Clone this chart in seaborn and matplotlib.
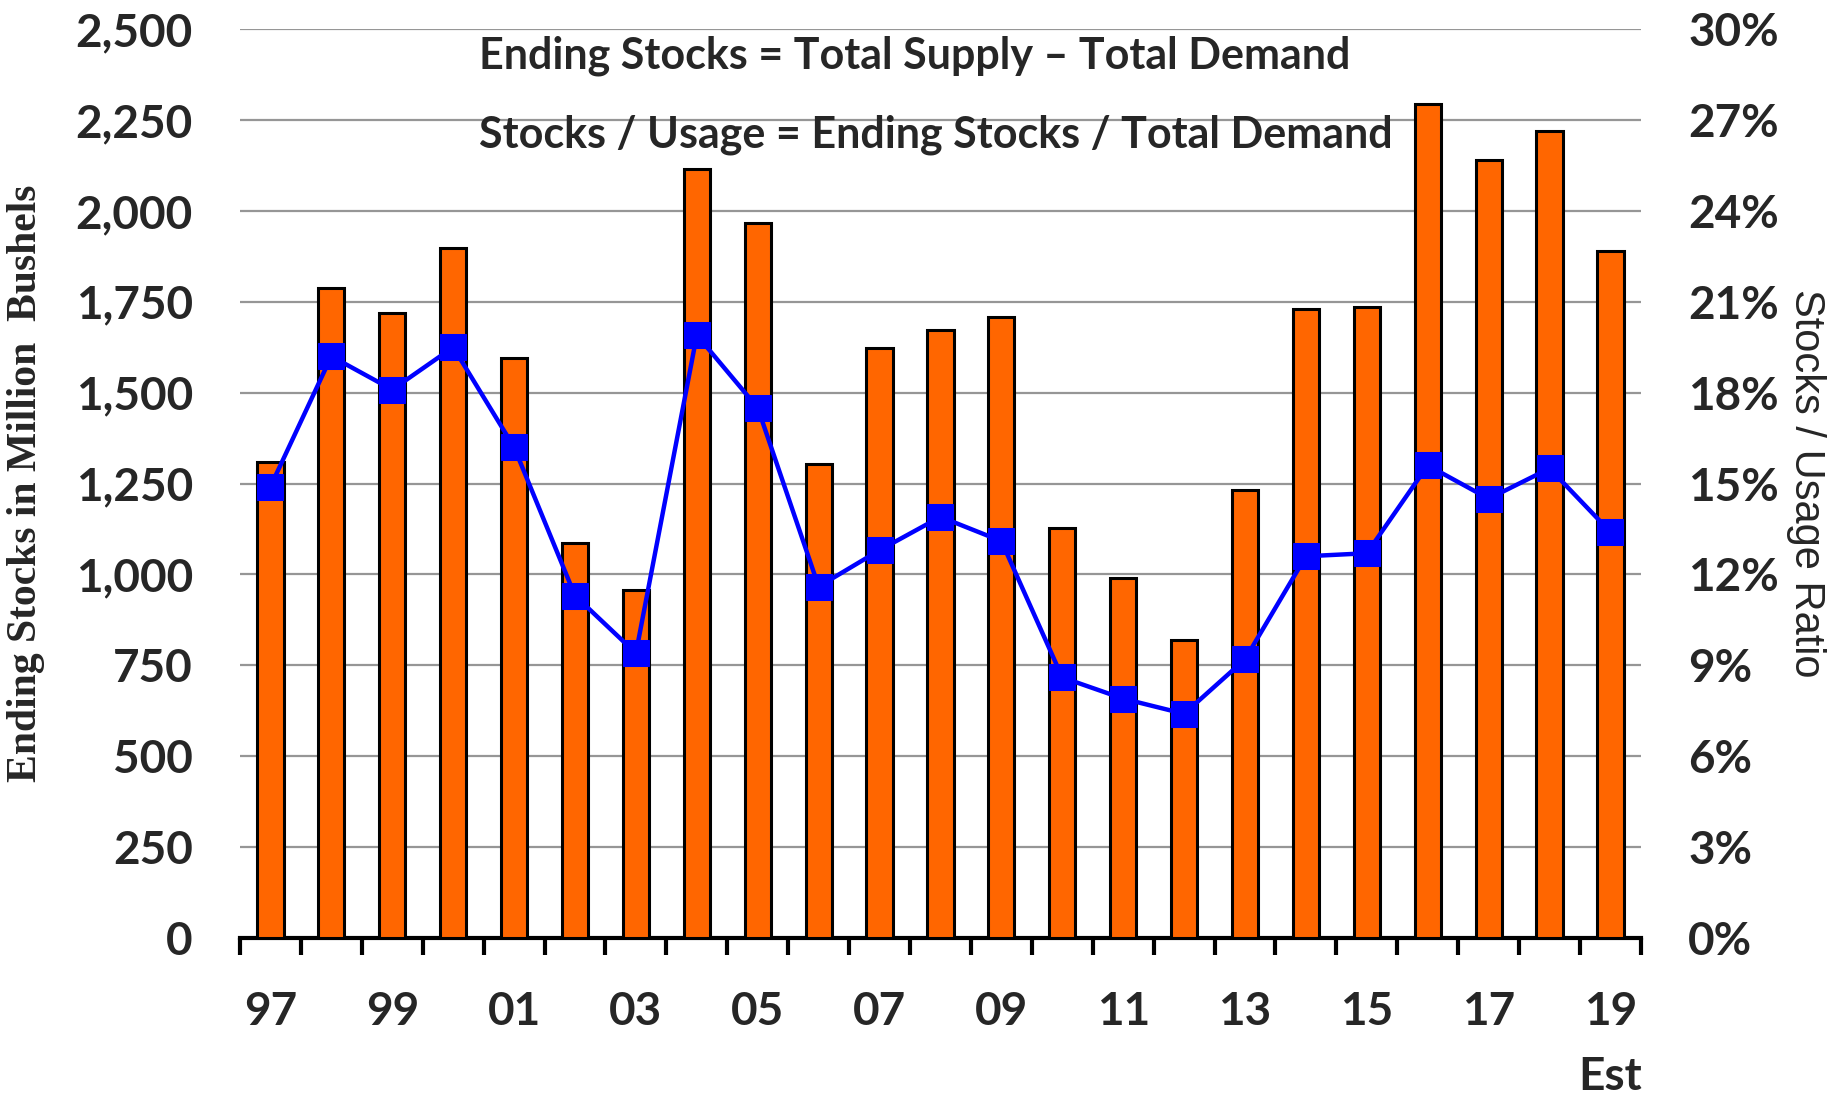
import numpy as np
import pandas as pd
import seaborn as sns
import matplotlib.pyplot as plt
from matplotlib.ticker import FuncFormatter, FixedLocator

# Data
years = ['97', '98', '99', '00', '01', '02', '03', '04', '05', '06', '07', '08',
         '09', '10', '11', '12', '13', '14', '15', '16', '17', '18', '19']
ending_stocks = [1308, 1787, 1718, 1899, 1596, 1087, 958, 2114, 1967, 1304, 1624, 1673,
                 1708, 1128, 989, 821, 1232, 1731, 1737, 2293, 2140, 2221, 1890]
stocks_usage = [14.9, 19.2, 18.1, 19.5, 16.2, 11.3, 9.4, 19.9, 17.5, 11.6, 12.8, 13.9,
                13.1, 8.6, 7.9, 7.4, 9.2, 12.6, 12.7, 15.6, 14.5, 15.5, 13.4]
tick_labels = [y if i % 2 == 0 else '' for i, y in enumerate(years)]

df = pd.DataFrame({'year': years, 'stocks': ending_stocks, 'ratio': stocks_usage})
df['pos'] = np.arange(len(df))

sns.set_style('white')
plt.rcParams['font.family'] = ['Lato', 'DejaVu Sans']

fig = plt.figure(figsize=(18.39, 10.99), dpi=100)
ax = fig.add_axes([0.1305, 0.1465, 0.7618, 0.827])

sns.barplot(data=df, x='year', y='stocks', color='#FF6600', width=0.43,
            edgecolor='black', linewidth=2.2, saturation=1, ax=ax, zorder=3)
ax.set_ylim(0, 2500)
ax.set_xlim(-0.5, len(years) - 0.5)
ax.set_yticks(np.arange(0, 2501, 250))
ax.yaxis.set_major_formatter(FuncFormatter(lambda v, p: f'{int(v):,}'))
ax.grid(axis='y', color='#969696', linewidth=1.6, zorder=0)
ax.set_axisbelow(True)
for s in ['top', 'left', 'right']:
    ax.spines[s].set_visible(False)
ax.spines['bottom'].set_linewidth(3)
ax.spines['bottom'].set_color('black')

ax.set_xticks(np.arange(len(years)))
ax.set_xticklabels(tick_labels)
ax.xaxis.set_minor_locator(FixedLocator(np.arange(-0.5, len(years), 1)))
ax.tick_params(axis='x', which='major', length=0, pad=38)
ax.tick_params(axis='x', which='minor', length=12, width=3, color='black', direction='out', bottom=True)
ax.tick_params(axis='y', length=0, pad=34)
for lab in ax.get_xticklabels() + ax.get_yticklabels():
    lab.set_fontsize(33)
    lab.set_fontweight('bold')
ax.set_xlabel('')
ax.set_ylabel('Ending Stocks in Million  Bushels', fontsize=30, fontweight='bold',
              family='Liberation Serif')
ax.yaxis.set_label_coords(-0.139, 0.5)
ax.text(len(years) - 1, -0.153, 'Est', transform=ax.get_xaxis_transform(),
        ha='center', va='center', fontsize=33, fontweight='bold')

ax2 = ax.twinx()
sns.lineplot(data=df, x='pos', y='ratio', color='#0000FF', linewidth=3.2, marker='s',
             markersize=19, markeredgecolor='#0000FF', ax=ax2, zorder=5)
ax2.set_ylim(0, 30)
ax2.set_yticks(np.arange(0, 31, 3))
ax2.yaxis.set_major_formatter(FuncFormatter(lambda v, p: f'{int(v)}%'))
ax2.tick_params(axis='y', length=0, pad=34)
for lab in ax2.get_yticklabels():
    lab.set_fontsize(33)
    lab.set_fontweight('bold')
for s in ['top', 'left', 'right', 'bottom']:
    ax2.spines[s].set_visible(False)
ax2.set_xlabel('')
ax2.set_ylabel('Stocks / Usage Ratio', fontsize=30, rotation=270,
               family='Liberation Sans')
ax2.yaxis.set_label_coords(1.132, 0.5)
ax2.grid(False)

fig.text(0.2605, 0.949, 'Ending Stocks = Total Supply \u2013 Total Demand',
         fontsize=31, fontweight='bold', va='center', ha='left')
fig.text(0.2605, 0.877, 'Stocks / Usage = Ending Stocks / Total Demand',
         fontsize=31, fontweight='bold', va='center', ha='left')

fig.savefig('out.png', dpi=100)
